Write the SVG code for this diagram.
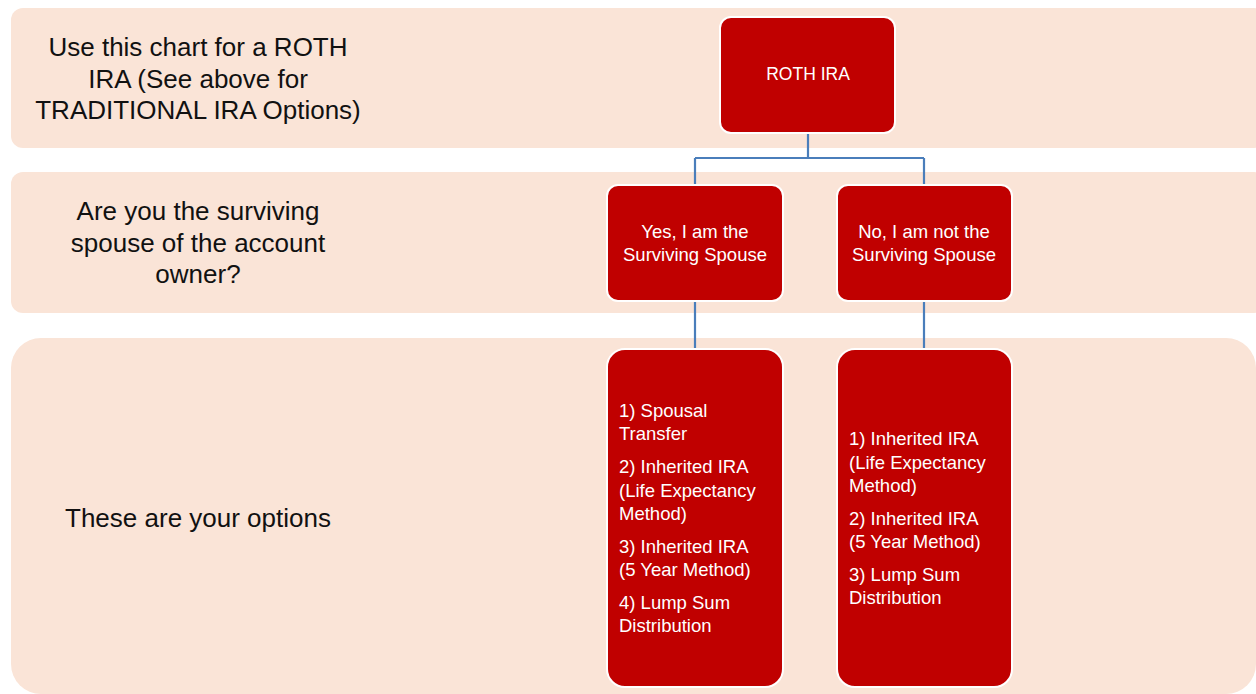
<svg xmlns="http://www.w3.org/2000/svg" width="1256" height="694" viewBox="0 0 1256 694">
<style>
.band{fill:#FAE4D7;}
.box{fill:#C00000;stroke:#FFFFFF;stroke-width:2;}
.lbl{font-family:"Liberation Sans",Arial,sans-serif;font-size:26px;fill:#111;text-anchor:middle;}
.bt{font-family:"Liberation Sans",Arial,sans-serif;font-size:18.5px;fill:#FFFFFF;}
.c{text-anchor:middle;}
.conn{fill:none;stroke:#4A7EBB;stroke-width:2.2;}
</style>
<rect width="1256" height="694" fill="#FFFFFF"/>
<g id="band1"><rect class="band" x="11" y="8" width="1255" height="140" rx="12"/>
<text class="lbl"><tspan x="198" y="56">Use this chart for a ROTH</tspan><tspan x="198" y="88">IRA (See above for</tspan><tspan x="198" y="119">TRADITIONAL IRA Options)</tspan></text></g>
<g id="band2"><rect class="band" x="11" y="172" width="1255" height="141" rx="12"/>
<text class="lbl"><tspan x="198" y="220">Are you the surviving</tspan><tspan x="198" y="252">spouse of the account</tspan><tspan x="198" y="283">owner?</tspan></text></g>
<g id="band3"><rect class="band" x="11" y="338" width="1245" height="356" rx="30"/>
<text class="lbl"><tspan x="198" y="527">These are your options</tspan></text></g>
<g id="connectors">
<path class="conn" d="M808,133 V158 M695,158 H924 M695,158 V186 M924,158 V186"/>
<path class="conn" d="M695,301 V350 M924,301 V350"/>
</g>
<g id="roth"><rect class="box" x="720" y="17" width="175" height="116" rx="11"/>
<text class="bt c" x="808" y="80" style="font-size:17.5px">ROTH IRA</text></g>
<g id="yes"><rect class="box" x="607" y="185" width="176" height="116" rx="11"/>
<text class="bt c"><tspan x="695" y="238">Yes, I am the</tspan><tspan x="695" y="261">Surviving Spouse</tspan></text></g>
<g id="no"><rect class="box" x="837" y="185" width="175" height="116" rx="11"/>
<text class="bt c"><tspan x="924" y="238">No, I am not the</tspan><tspan x="924" y="261">Surviving Spouse</tspan></text></g>
<g id="opt-yes"><rect class="box" x="607" y="349" width="176" height="338" rx="18"/>
<text class="bt"><tspan x="619" y="417">1) Spousal</tspan><tspan x="619" y="440">Transfer</tspan><tspan x="619" y="473">2) Inherited IRA</tspan><tspan x="619" y="497">(Life Expectancy</tspan><tspan x="619" y="520">Method)</tspan><tspan x="619" y="553">3) Inherited IRA</tspan><tspan x="619" y="576">(5 Year Method)</tspan><tspan x="619" y="609">4) Lump Sum</tspan><tspan x="619" y="632">Distribution</tspan></text></g>
<g id="opt-no"><rect class="box" x="837" y="349" width="175" height="338" rx="18"/>
<text class="bt"><tspan x="849" y="445">1) Inherited IRA</tspan><tspan x="849" y="469">(Life Expectancy</tspan><tspan x="849" y="492">Method)</tspan><tspan x="849" y="525">2) Inherited IRA</tspan><tspan x="849" y="548">(5 Year Method)</tspan><tspan x="849" y="581">3) Lump Sum</tspan><tspan x="849" y="604">Distribution</tspan></text></g>
</svg>
